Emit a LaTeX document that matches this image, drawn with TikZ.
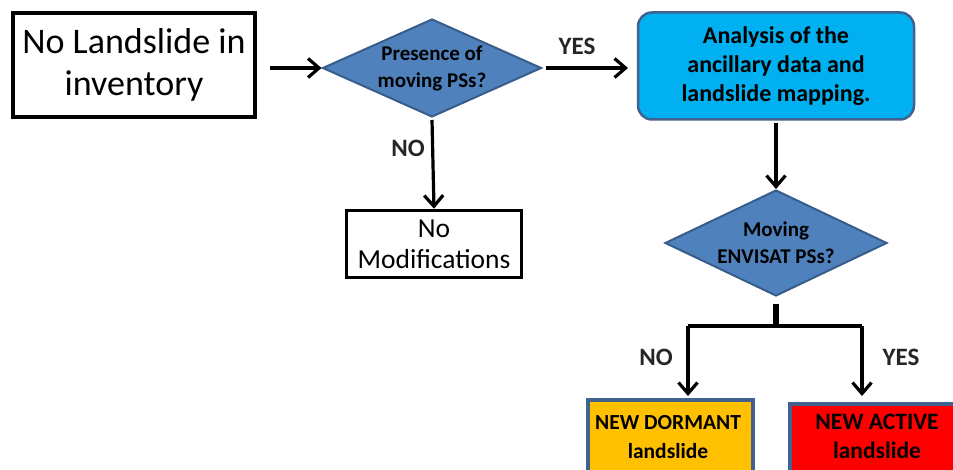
\documentclass[tikz,border=0pt]{standalone}
\usepackage{fontspec}
\setmainfont{Carlito}
\usetikzlibrary{shapes.geometric,arrows.meta}
\definecolor{dblue}{HTML}{4F81BD}
\definecolor{dblueb}{HTML}{385D8A}
\definecolor{cyanbox}{HTML}{00B0F0}
\definecolor{boxedge}{HTML}{41628F}
\definecolor{orng}{HTML}{FFC000}
\tikzset{
  plainbox/.style={draw=black, line width=4pt, fill=white, align=center, inner sep=0pt},
  decision/.style={diamond, draw=dblueb, line width=2pt, fill=dblue, aspect=2.23, inner sep=0pt, align=center, font=\bfseries\fontsize{21}{27}\selectfont},
  flow/.style={line width=3.2pt, -{Straight Barb[length=11pt,width=19pt,line width=3.2pt]}},
  lbl/.style={font=\bfseries\fontsize{25}{28}\selectfont, text=black!85},
  endbox/.style={draw=boxedge, line width=4pt, inner sep=0pt},
}
\begin{document}
\begin{tikzpicture}[x=1pt,y=-1pt]
\useasboundingbox (0,0) rectangle (953,470);
\clip (0,0) rectangle (953,470);
% nodes
\node[plainbox, minimum width=242pt, minimum height=104pt, font=\fontsize{36}{42}\selectfont] (inv) at (134,65) {No Landslide in\\inventory};
\node[decision, minimum width=219pt, minimum height=98pt] (d1) at (432,68) {Presence of\\moving PSs?};
\node[draw=boxedge, line width=2.5pt, fill=cyanbox, rounded corners=14pt, minimum width=276pt, minimum height=107pt, align=center, inner sep=0pt, font=\bfseries\fontsize{24}{29}\selectfont] (ana) at (776,66) {Analysis of the\\ancillary data and\\landslide mapping.};
\node[plainbox, line width=3.5pt, minimum width=175pt, minimum height=67pt, font=\fontsize{27.5}{31}\selectfont] (nomod) at (434,244) {No\\Modifications};
\node[decision, minimum width=222pt, minimum height=106pt] (d2) at (776,243) {Moving\\ENVISAT PSs?};
\node[endbox, fill=orng, minimum width=165pt, minimum height=90pt] (dorm) at (670,445) {};
\node[font=\bfseries\fontsize{21.5}{29}\selectfont, align=center] (dormt) at (668,437) {NEW DORMANT\\landslide};
\node[endbox, fill=red, minimum width=180pt, minimum height=90pt] (act) at (880,449) {};
\node[font=\bfseries\fontsize{23.5}{29}\selectfont, align=center] (actt) at (877,436) {NEW ACTIVE\\landslide};
% connectors
\coordinate (a1s) at (270,68);
\draw[flow] (a1s) -- (d1.west);
\coordinate (a2s) at (546,68);
\coordinate (a2e) at (628,68);
\draw[flow] (a2s) -- (a2e);
\node[lbl] (yes1) at (577,46) {YES};
\draw[flow] (d1.south) ++(0,2) -- (nomod.north);
\node[lbl] (no1) at (408,148) {NO};
\draw[flow] (ana.south) ++(0,2) -- (d2.north);
\coordinate (stem) at (776,304);
\coordinate (junc) at (776,326);
\draw[line width=5.5pt] (stem) -- (junc);
\coordinate (ljoin) at (688,326);
\coordinate (rjoin) at (862,326);
\coordinate (lend) at (688,396);
\coordinate (rend) at (862,396);
\draw[line width=3.2pt] (ljoin) -- (rjoin);
\draw[flow] (ljoin) -- (lend);
\draw[flow] (rjoin) -- (rend);
\node[lbl] (no2) at (656,357) {NO};
\node[lbl] (yes2) at (901,357) {YES};
\end{tikzpicture}
\end{document}
